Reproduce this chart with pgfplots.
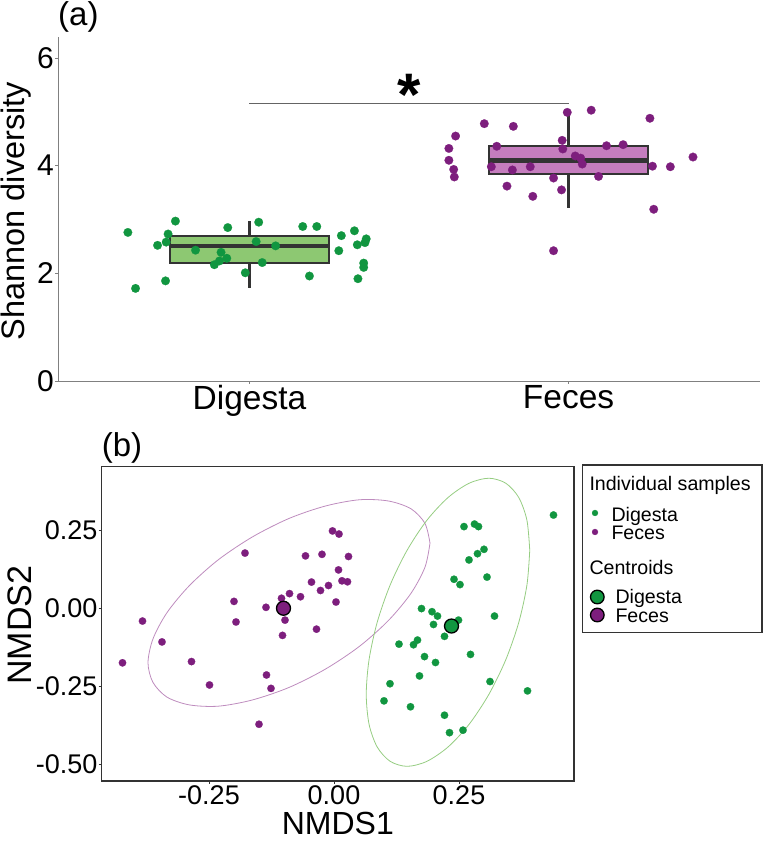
\documentclass[border=0pt]{standalone}
\usepackage{fontspec}
\setmainfont{Liberation Sans}
\usepackage{pgfplots}
\pgfplotsset{compat=1.18}
\usepgfplotslibrary{statistics}
\definecolor{gdot}{RGB}{17,150,64}
\definecolor{pdot}{RGB}{125,30,125}
\definecolor{gbox}{RGB}{141,200,114}
\definecolor{pbox}{RGB}{197,125,190}
\definecolor{boxc}{RGB}{51,51,51}
\definecolor{gell}{RGB}{150,205,130}
\definecolor{pell}{RGB}{190,140,190}
\definecolor{axgray}{RGB}{128,128,128}
\definecolor{sigc}{RGB}{100,100,100}
\begin{document}
\begin{tikzpicture}[x=1pt,y=1pt]
\useasboundingbox (0,0) rectangle (763,841);
% ---------------- panel (a)
\begin{axis}[
 at={(58pt,460pt)}, anchor=south west, scale only axis, width=702pt, height=344pt,
 xmin=0.4, xmax=2.6, ymin=0, ymax=6.39,
 axis x line*=bottom, axis y line*=left,
 axis line style={draw=axgray, line width=0.8pt},
 xtick={1,2}, xticklabels={Digesta,Feces},
 ytick={0,2,4,6},
 tick align=outside, major tick length=3pt, tick style={draw=axgray, line width=0.8pt},
 /pgf/number format/assume math mode=true,
 xticklabel style={font=\fontsize{33.5}{36}\selectfont, inner sep=0pt, anchor=north, yshift=-1pt},
 yticklabel style={font=\fontsize{30}{34}\selectfont, inner sep=0pt, anchor=east, xshift=-1pt},
 ylabel={Shannon diversity},
 ylabel style={font=\fontsize{32.5}{36}\selectfont, at={(axis description cs:-0.059,0.494)}, anchor=center, inner sep=0pt},
 clip=false,
 boxplot/draw direction=y,
]
\addplot[boxplot prepared={lower whisker=1.72, lower quartile=2.19, median=2.51, upper quartile=2.70, upper whisker=2.97, draw position=1, box extend=0.5, whisker extend=0}, draw=boxc, fill=gbox, line width=2.2pt, boxplot/every median/.style={line width=4.5pt, draw=boxc}] coordinates {};
\addplot[boxplot prepared={lower whisker=3.21, lower quartile=3.85, median=4.10, upper quartile=4.37, upper whisker=4.99, draw position=2, box extend=0.5, whisker extend=0}, draw=boxc, fill=pbox, line width=2.2pt, boxplot/every median/.style={line width=4.5pt, draw=boxc}] coordinates {};
\addplot[color=gdot, only marks, mark=*, mark size=4.3pt, mark options={draw=gdot, fill=gdot, line width=0.2pt}] coordinates {
(0.619,2.76) (0.643,1.72) (0.768,2.97) (0.745,2.73) (0.739,2.58) (0.712,2.52)
(0.737,1.86) (0.831,2.43) (0.890,2.16) (0.906,2.23) (0.911,2.39) (0.929,2.28)
(0.932,2.85) (0.987,2.01) (1.021,2.59) (1.029,2.95) (1.040,2.20) (1.082,2.51)
(1.167,2.87) (1.211,2.87) (1.188,1.95) (1.280,2.42) (1.288,2.70) (1.329,2.79)
(1.338,2.53) (1.362,2.57) (1.366,2.64) (1.358,2.19) (1.358,2.11) (1.340,1.90)};
\addplot[color=pdot, only marks, mark=*, mark size=4.3pt, mark options={draw=pdot, fill=pdot, line width=0.2pt}] coordinates {
(1.646,4.55) (1.625,4.32) (1.625,4.10) (1.640,3.93) (1.642,3.79) (1.736,4.78)
(1.827,4.73) (1.775,4.36) (1.758,3.98) (1.824,3.92) (1.880,3.98) (1.807,3.62)
(1.888,3.43) (1.953,3.77) (1.978,3.55) (1.953,2.42) (1.996,4.99) (2.071,5.03)
(1.980,4.47) (1.982,4.31) (2.021,4.18) (2.038,4.14) (2.043,4.03) (2.119,4.37)
(2.171,4.39) (2.094,3.80) (2.255,4.88) (2.263,3.99) (2.319,3.98) (2.390,4.16)
(2.267,3.19)};
\addplot[sigc, line width=0.9pt, mark=none] coordinates {(1,5.15) (2,5.15)};
\node[anchor=base, inner sep=0pt, font=\bfseries\fontsize{60}{60}\selectfont] at (axis cs:1.5,4.93) {*};
\node[anchor=base west, inner sep=0pt, font=\fontsize{33}{36}\selectfont, yshift=11pt] at (rel axis cs:0,1) {(a)};
\end{axis}
% ---------------- panel (b)
\begin{axis}[
 at={(101.7pt,60pt)}, anchor=south west, scale only axis, width=472.3pt, height=314.3pt,
 xmin=-0.4646, xmax=0.48, ymin=-0.554, ymax=0.454,
 axis line style={draw=boxc, line width=1.3pt},
 xtick={-0.25,0,0.25}, xticklabels={-0.25,0.00,0.25},
 ytick={-0.5,-0.25,0,0.25}, yticklabels={-0.50,-0.25,0.00,0.25},
 xtick pos=left, ytick pos=left,
 tick align=outside, major tick length=3pt, tick style={draw=boxc, line width=0.8pt},
 xticklabel style={font=\fontsize{27}{30}\selectfont, inner sep=0pt, anchor=north, yshift=-1pt},
 yticklabel style={font=\fontsize{27}{30}\selectfont, inner sep=0pt, anchor=east, xshift=-1pt},
 xlabel={NMDS1}, ylabel={NMDS2},
 xlabel style={font=\fontsize{32}{34}\selectfont, at={(axis description cs:0.5,-0.136)}, anchor=center, inner sep=0pt},
 ylabel style={font=\fontsize{34}{36}\selectfont, at={(axis description cs:-0.173,0.496)}, anchor=center, inner sep=0pt},
 clip=false,
]
\addplot[pell, line width=0.8pt, smooth, mark=none] coordinates {
(0.192,0.209) (0.182,0.272) (0.154,0.319) (0.109,0.344) (0.051,0.348) (-0.017,0.328)
(-0.090,0.288) (-0.163,0.229) (-0.231,0.156) (-0.289,0.073) (-0.334,-0.014) (-0.362,-0.098)
(-0.372,-0.175) (-0.362,-0.238) (-0.334,-0.285) (-0.289,-0.310) (-0.231,-0.314) (-0.163,-0.294)
(-0.090,-0.254) (-0.017,-0.195) (0.051,-0.122) (0.109,-0.039) (0.154,0.048) (0.182,0.132)
(0.192,0.209)};
\addplot[gell, line width=0.8pt, smooth, mark=none] coordinates {
(0.3915,0.186) (0.3859,0.282) (0.3696,0.355) (0.3436,0.401) (0.3098,0.417) (0.2703,0.401)
(0.228,0.355) (0.1857,0.282) (0.1462,0.186) (0.1124,0.075) (0.0864,-0.045) (0.0701,-0.165)
(0.0645,-0.276) (0.0701,-0.372) (0.0864,-0.445) (0.1124,-0.491) (0.1462,-0.507) (0.1857,-0.491)
(0.228,-0.445) (0.2703,-0.372) (0.3098,-0.276) (0.3436,-0.165) (0.3696,-0.045) (0.3859,0.075)
(0.3915,0.186)};
\addplot[color=pdot, only marks, mark=*, mark size=3.7pt, mark options={draw=pdot, fill=pdot, line width=0.2pt}] coordinates {
(-0.178,0.177) (-0.200,0.022) (-0.196,-0.044) (-0.136,0.003) (-0.105,0.032) (-0.089,0.047)
(-0.098,-0.038) (-0.103,-0.087) (-0.383,-0.041) (-0.344,-0.108) (-0.423,-0.175) (-0.285,-0.171)
(-0.249,-0.246) (-0.135,-0.214) (-0.126,-0.257) (-0.150,-0.372) (-0.067,0.037) (-0.003,0.248)
(0.010,0.238) (-0.057,0.168) (-0.024,0.173) (0.029,0.166) (0.009,0.123) (-0.045,0.084)
(-0.027,0.057) (-0.011,0.073) (0.016,0.088) (0.027,0.085) (0.004,0.020) (-0.035,-0.067)};
\addplot[color=gdot, only marks, mark=*, mark size=3.7pt, mark options={draw=gdot, fill=gdot, line width=0.2pt}] coordinates {
(0.439,0.299) (0.260,0.262) (0.281,0.270) (0.289,0.262) (0.300,0.189) (0.287,0.175)
(0.270,0.155) (0.306,0.100) (0.240,0.093) (0.252,0.076) (0.175,-0.001) (0.196,-0.011)
(0.207,-0.025) (0.199,-0.052) (0.249,-0.038) (0.221,-0.090) (0.321,-0.025) (0.130,-0.115)
(0.159,-0.117) (0.167,-0.102) (0.181,-0.155) (0.203,-0.174) (0.273,-0.148) (0.171,-0.217)
(0.112,-0.242) (0.100,-0.297) (0.153,-0.316) (0.312,-0.235) (0.387,-0.265) (0.221,-0.343)
(0.231,-0.399) (0.258,-0.391)};
\addplot[only marks, mark=*, mark size=7pt, mark options={draw=black, fill=pdot, line width=1.3pt}] coordinates {(-0.101,0.000)};
\addplot[only marks, mark=*, mark size=7pt, mark options={draw=black, fill=gdot, line width=1.3pt}] coordinates {(0.235,-0.057)};
\node[anchor=base west, inner sep=0pt, font=\fontsize{33}{36}\selectfont, yshift=10.7pt] at (rel axis cs:0,1) {(b)};
\end{axis}
% ---------------- legend box for panel (b)
\begin{axis}[
 at={(582.3pt,208.7pt)}, anchor=south west, scale only axis, width=179.7pt, height=167.3pt,
 xmin=0, xmax=179.7, ymin=0, ymax=167.3, xtick=\empty, ytick=\empty,
 axis line style={draw=boxc, line width=1.3pt}, clip=false,
]
\addplot[color=gdot, only marks, mark=*, mark size=3pt, mark options={draw=gdot, fill=gdot, line width=0.2pt}] coordinates {(12.7,119.3)};
\addplot[color=pdot, only marks, mark=*, mark size=3pt, mark options={draw=pdot, fill=pdot, line width=0.2pt}] coordinates {(12.7,100.3)};
\addplot[only marks, mark=*, mark size=6.8pt, mark options={draw=black, fill=gdot, line width=1.3pt}] coordinates {(15,35.3)};
\addplot[only marks, mark=*, mark size=6.8pt, mark options={draw=black, fill=pdot, line width=1.3pt}] coordinates {(15,17.3)};
\begin{scope}[every node/.style={anchor=base west, inner sep=0pt, font=\fontsize{19.6}{23}\selectfont}]
\node at (axis cs:7,141.6) {Individual samples};
\node at (axis cs:29,110.6) {Digesta};
\node at (axis cs:29,92.3) {Feces};
\node at (axis cs:7,57.3) {Centroids};
\node at (axis cs:33,28.3) {Digesta};
\node at (axis cs:33,9.6) {Feces};
\end{scope}
\end{axis}
\end{tikzpicture}
\end{document}
